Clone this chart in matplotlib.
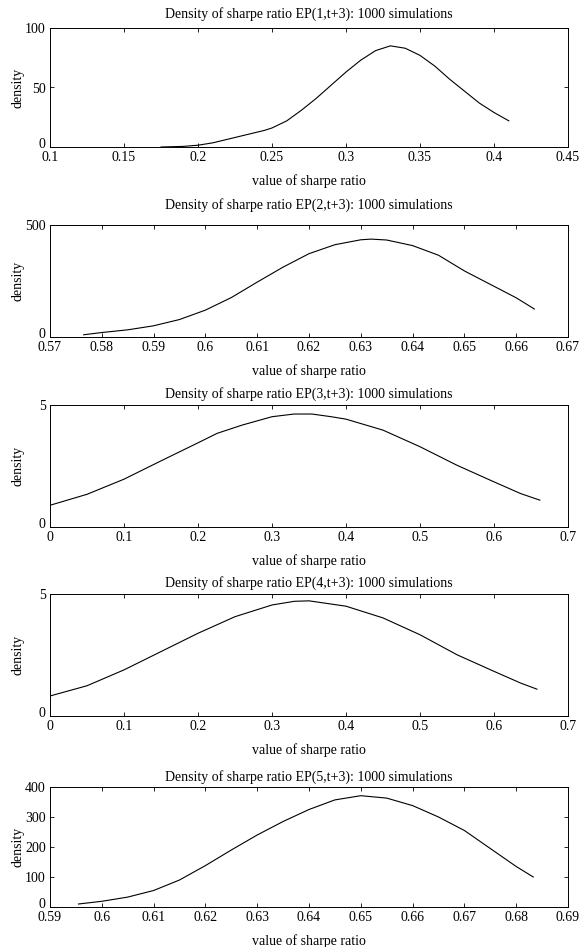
import matplotlib
matplotlib.use("Agg")
import matplotlib.pyplot as plt
from matplotlib.transforms import ScaledTranslation

plt.rcParams['font.family'] = ['Liberation Serif', 'DejaVu Serif']
plt.rcParams['font.size'] = 10

titles = [
    "Density of sharpe ratio EP(1,t+3): 1000 simulations",
    "Density of sharpe ratio EP(2,t+3): 1000 simulations",
    "Density of sharpe ratio EP(3,t+3): 1000 simulations",
    "Density of sharpe ratio EP(4,t+3): 1000 simulations",
    "Density of sharpe ratio EP(5,t+3): 1000 simulations",
]
xlabel = "value of sharpe ratio"
ylabel = "density"

# Panel 1
x1 = [0.175, 0.19, 0.20, 0.21, 0.225, 0.235, 0.245, 0.25, 0.26, 0.27, 0.28, 0.29,
      0.30, 0.31, 0.32, 0.33, 0.34, 0.35, 0.36, 0.37, 0.38, 0.39, 0.40, 0.41]
y1 = [0, 0.5, 1.5, 3.5, 8, 11, 14, 16, 22, 31, 41, 52,
      63, 73, 81, 85, 83, 77, 68, 57, 47, 37, 29, 22]
xt1 = [0.1, 0.15, 0.2, 0.25, 0.3, 0.35, 0.4, 0.45]
xtl1 = ["0.1", "0.15", "0.2", "0.25", "0.3", "0.35", "0.4", "0.45"]
yt1 = [0, 50, 100]
ytl1 = ["0", "50", "100"]

# Panel 2
x2 = [0.5765, 0.58, 0.585, 0.59, 0.595, 0.60, 0.605, 0.61, 0.615, 0.62, 0.625,
      0.63, 0.632, 0.635, 0.64, 0.645, 0.65, 0.655, 0.66, 0.6635]
y2 = [10, 20, 32, 50, 78, 120, 176, 245, 312, 372, 412,
      434, 437, 433, 408, 365, 295, 235, 175, 125]
xt2 = [0.57, 0.58, 0.59, 0.60, 0.61, 0.62, 0.63, 0.64, 0.65, 0.66, 0.67]
xtl2 = ["0.57", "0.58", "0.59", "0.6", "0.61", "0.62", "0.63", "0.64", "0.65", "0.66", "0.67"]
yt2 = [0, 500]
ytl2 = ["0", "500"]

# Panel 3
x3 = [0, 0.05, 0.1, 0.15, 0.2, 0.226, 0.26, 0.30, 0.33, 0.354, 0.38, 0.40,
      0.45, 0.50, 0.55, 0.60, 0.636, 0.662]
y3 = [0.89, 1.34, 1.96, 2.71, 3.45, 3.84, 4.18, 4.52, 4.63, 4.63, 4.52, 4.42,
      3.97, 3.29, 2.53, 1.85, 1.37, 1.10]
# Panel 4
x4 = [0, 0.05, 0.1, 0.15, 0.2, 0.25, 0.30, 0.33, 0.35, 0.40, 0.45, 0.50,
      0.55, 0.60, 0.636, 0.658]
y4 = [0.82, 1.24, 1.89, 2.64, 3.39, 4.07, 4.55, 4.70, 4.72, 4.50, 4.02, 3.33,
      2.51, 1.83, 1.35, 1.10]
xt34 = [0, 0.1, 0.2, 0.3, 0.4, 0.5, 0.6, 0.7]
xtl34 = ["0", "0.1", "0.2", "0.3", "0.4", "0.5", "0.6", "0.7"]
yt34 = [0, 5]
ytl34 = ["0", "5"]

# Panel 5
x5 = [0.5955, 0.60, 0.605, 0.61, 0.615, 0.62, 0.625, 0.63, 0.635, 0.64, 0.645,
      0.65, 0.655, 0.66, 0.665, 0.67, 0.675, 0.68, 0.6833]
y5 = [10, 19, 33, 55, 90, 138, 190, 240, 285, 325, 357,
      371, 363, 338, 300, 255, 195, 135, 100]
xt5 = [0.59, 0.60, 0.61, 0.62, 0.63, 0.64, 0.65, 0.66, 0.67, 0.68, 0.69]
xtl5 = ["0.59", "0.6", "0.61", "0.62", "0.63", "0.64", "0.65", "0.66", "0.67", "0.68", "0.69"]
yt5 = [0, 100, 200, 300, 400]
ytl5 = ["0", "100", "200", "300", "400"]

panels = [
    (x1, y1, xt1, xtl1, yt1, ytl1),
    (x2, y2, xt2, xtl2, yt2, ytl2),
    (x3, y3, xt34, xtl34, yt34, ytl34),
    (x4, y4, xt34, xtl34, yt34, ytl34),
    (x5, y5, xt5, xtl5, yt5, ytl5),
]

W, H = 579, 947
fig = plt.figure(figsize=(W / 100, H / 100), dpi=100)

# (top px, bottom px) of each axes box, title pad in points
boxes = [(28, 147, 7.5), (225, 337, 12.0), (405, 527, 5.5), (594, 716, 5.0), (787, 907, 4.2)]
left_px, right_px = 50, 568

for (xs, ys, xt, xtl, yt, ytl), (top, bot, tpad), title in zip(panels, boxes, titles):
    ax = fig.add_axes([left_px / W, 1 - bot / H, (right_px - left_px) / W, (bot - top) / H])
    ax.plot(xs, ys, color='black', lw=0.8)
    ax.set_xlim(xt[0], xt[-1])
    ax.set_ylim(yt[0], yt[-1])
    ax.set_xticks(xt)
    ax.set_xticklabels(xtl)
    ax.set_yticks(yt)
    ax.set_yticklabels(ytl)
    ax.tick_params(direction='in', top=True, right=True, length=3, width=0.6, pad=3, labelsize=10)
    # raise the y "0" label a little above the axis line, as in the reference
    lab0 = ax.get_yticklabels()[0]
    lab0.set_transform(lab0.get_transform() + ScaledTranslation(0, 0.04, fig.dpi_scale_trans))
    for s in ax.spines.values():
        s.set_linewidth(0.7)
    ax.set_title(title, pad=tpad, fontsize=10)
    ax.set_xlabel(xlabel, labelpad=7, fontsize=10)
    ax.set_ylabel(ylabel, fontsize=10)
    ax.yaxis.set_label_coords(-0.05, 0.5)

fig.savefig("out.png", dpi=100)
